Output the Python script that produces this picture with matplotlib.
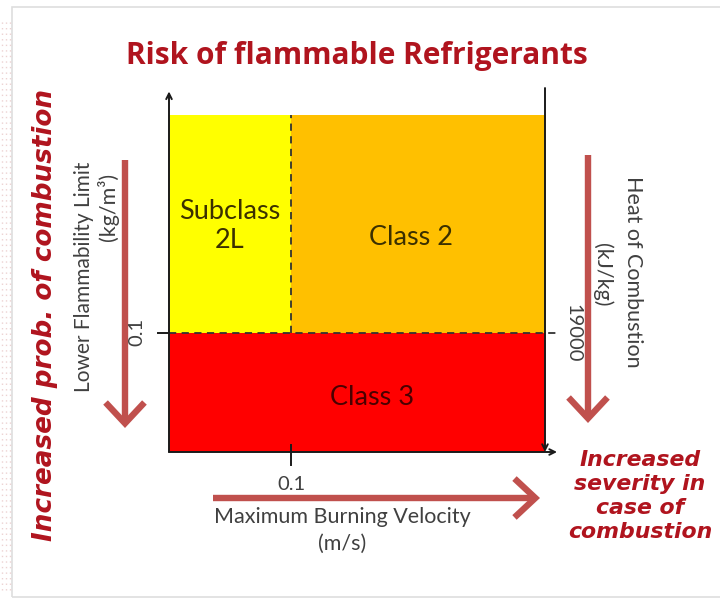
import matplotlib
matplotlib.use("Agg")
import matplotlib.pyplot as plt
from matplotlib.patches import FancyArrowPatch, Rectangle

# ---- data ----
region_names = ["Subclass\n2L", "Class 2", "Class 3"]
region_colors = ["#FFFF00", "#FFC000", "#FF0000"]
burning_velocity_threshold = 0.1      # m/s
lfl_threshold = 0.1                   # kg/m^3
heat_threshold = 19000                # kJ/kg
x_max = 0.308
y_max = 0.283
region_x = [(0.0, burning_velocity_threshold), (burning_velocity_threshold, x_max), (0.0, x_max)]
region_y = [(lfl_threshold, y_max), (lfl_threshold, y_max), (0.0, lfl_threshold)]

W, H = 720, 601
fig = plt.figure(figsize=(W / 100, H / 100), dpi=100)
fig.patch.set_facecolor("white")

def fx(x):
    return x / W

def fy(y):
    return 1 - y / H

# light frame
fig.patches.append(Rectangle((fx(12), fy(597)), fx(712) - fx(12) + 0.02, fy(7) - fy(597),
                             transform=fig.transFigure, fill=False, edgecolor="#dedede", lw=1.2))
for xx in [2, 6, 10]:
    fig.lines.append(plt.Line2D([fx(xx), fx(xx)], [fy(590), fy(20)], transform=fig.transFigure,
                                color="#ecd2d2", lw=1, ls=(0, (1, 3))))

# main axes
L, R, T, B = 169, 545, 115, 452
ax = fig.add_axes([fx(L), fy(B), fx(R) - fx(L), fy(T) - fy(B)])
ax.set_xlim(0, x_max)
ax.set_ylim(0, y_max)
for sp in ax.spines.values():
    sp.set_visible(False)
ax.set_xticks([])
ax.set_yticks([])
ax.patch.set_alpha(0)

for (x0, x1), (y0, y1), c in zip(region_x, region_y, region_colors):
    ax.add_patch(Rectangle((x0, y0), x1 - x0, y1 - y0, facecolor=c, edgecolor="none"))

text_col = "#3b3000"
ax.text(0.05, 0.19, region_names[0], ha="center", va="center", fontsize=19.5, family="Lato",
        color=text_col, linespacing=1.2)
ax.text(0.198, 0.18, region_names[1], ha="center", va="center", fontsize=19.5, family="Lato", color=text_col)
ax.text(0.166, 0.046, region_names[2], ha="center", va="center", fontsize=19.5, family="Lato", color="#4a0000")

# dashed boundaries
ax.plot([burning_velocity_threshold, burning_velocity_threshold], [lfl_threshold, y_max],
        color="#333333", lw=1.3, ls=(0, (4, 3)))
ax.plot([0, x_max * 1.035], [lfl_threshold, lfl_threshold], color="#333333", lw=1.3,
        ls=(0, (4, 3)), clip_on=False)

# axis lines with arrows
ax_col = "#1a1a1a"
ax.annotate("", xy=(0, y_max * 1.07), xytext=(0, 0), xycoords="data",
            arrowprops=dict(arrowstyle="->", color=ax_col, lw=1.4, shrinkA=0, shrinkB=0), annotation_clip=False)
ax.annotate("", xy=(x_max * 1.032, 0), xytext=(0, 0),
            arrowprops=dict(arrowstyle="->", color=ax_col, lw=1.4, shrinkA=0, shrinkB=0), annotation_clip=False)
ax.annotate("", xy=(x_max, 0), xytext=(x_max, y_max * 1.08),
            arrowprops=dict(arrowstyle="->", color=ax_col, lw=1.4, shrinkA=0, shrinkB=0), annotation_clip=False)

# ticks
ax.plot([-0.009, 0], [lfl_threshold, lfl_threshold], color=ax_col, lw=1.4, clip_on=False)
ax.plot([burning_velocity_threshold] * 2, [0.006, -0.011], color=ax_col, lw=1.4, clip_on=False)

lab_col = "#404040"
fig.text(fx(137), fy(332), f"{lfl_threshold}", rotation=90, ha="center", va="center",
         fontsize=14.5, family="Lato", color=lab_col)
fig.text(fx(291), fy(484), f"{burning_velocity_threshold}", ha="center", va="center",
         fontsize=14.5, family="Lato", color=lab_col)
fig.text(fx(573), fy(333), f"{heat_threshold}", rotation=-90, ha="center", va="center",
         fontsize=14.5, family="Lato", color=lab_col)

# axis descriptions
fs = 15.5
fig.text(fx(84), fy(277), "Lower Flammability Limit", rotation=90, ha="center", va="center",
         fontsize=15, family="Lato", color=lab_col)
fig.text(fx(108), fy(207), "(kg/m\u00b3)", rotation=90, ha="center", va="center",
         fontsize=fs, family="Lato", color=lab_col)
fig.text(fx(633), fy(272), "Heat of Combustion", rotation=-90, ha="center", va="center",
         fontsize=fs, family="Lato", color=lab_col)
fig.text(fx(602), fy(275), "(kJ/kg)", rotation=-90, ha="center", va="center",
         fontsize=fs, family="Lato", color=lab_col)
fig.text(fx(342), fy(517), "Maximum Burning Velocity", ha="center", va="center",
         fontsize=fs, family="Lato", color=lab_col)
fig.text(fx(342), fy(544), "(m/s)", ha="center", va="center",
         fontsize=fs, family="Lato", color=lab_col)

# big arrows
arr_col = "#C0504D"
for (x0, y0, x1, y1) in [(125, 160, 125, 428), (588, 155, 588, 423), (213, 498, 540, 498)]:
    fig.patches.append(FancyArrowPatch((fx(x0), fy(y0)), (fx(x1), fy(y1)), transform=fig.transFigure,
                                       arrowstyle="->,head_length=1.5,head_width=1.4",
                                       mutation_scale=10, color=arr_col, lw=4.6,
                                       shrinkA=0, shrinkB=0, joinstyle="miter", capstyle="butt"))

# titles
red = "#B0141E"
fig.text(fx(357), fy(56), "Risk of flammable Refrigerants", ha="center", va="center",
         fontsize=21.5, family="Open Sans", weight="bold", color=red)
fig.text(fx(45), fy(315), "Increased prob. of combustion", rotation=90, ha="center", va="center",
         fontsize=18.9, family="DejaVu Sans", weight="bold", style="italic", color=red)
fig.text(fx(640), fy(496), "Increased\nseverity in\ncase of\ncombustion", ha="center", va="center",
         fontsize=15.8, family="DejaVu Sans", weight="bold", style="italic", color=red, linespacing=1.24)

fig.savefig("out.png", dpi=100)
